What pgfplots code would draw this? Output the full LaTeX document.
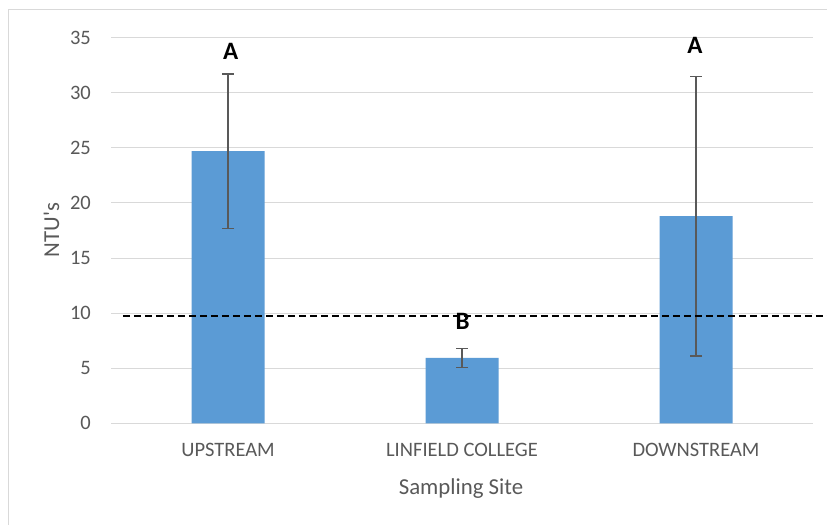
\documentclass[border=0pt]{standalone}
\usepackage{pgfplots}
\pgfplotsset{compat=1.18}
\usepackage{fontspec}
\setmainfont{Carlito}
\definecolor{barblue}{HTML}{5B9BD5}
\definecolor{gridgray}{HTML}{D9D9D9}
\definecolor{textgray}{HTML}{595959}
\begin{document}
\begin{tikzpicture}
\useasboundingbox (0,0) rectangle (827bp,525bp);
\fill[white] (0,0) rectangle (827bp,525bp);
% chart frame (right and bottom edges are cropped off)
\draw[gridgray, line width=1bp] (8bp,0) -- (8bp,515bp) -- (827bp,515bp);
\begin{axis}[
    at={(111bp,101.7bp)}, anchor=south west,
    scale only axis, width=702bp, height=385.6bp,
    ybar, bar width=73bp,
    xmin=-0.5, xmax=2.5, ymin=0, ymax=35,
    ytick={0,5,...,35},
    xtick={0,1,2},
    xticklabels={UPSTREAM, LINFIELD COLLEGE, DOWNSTREAM},
    axis line style={draw=none}, major tick length=0pt,
    ymajorgrids, grid style={gridgray, line width=1bp},
    tick label style={font=\fontsize{20.5bp}{24bp}\selectfont, text=textgray},
    /pgf/number format/assume math mode=true,
    yticklabel style={anchor=east, inner sep=0pt, xshift=-20bp},
    xticklabel style={anchor=north, inner sep=0pt, yshift=-20bp},
    xlabel={Sampling Site}, ylabel={NTU\textquotesingle s},
    label style={font=\fontsize{22.8bp}{26bp}\selectfont, text=textgray},
    xlabel style={at={(axis description cs:0.4986,-0.168)}, anchor=center},
    ylabel style={at={(axis description cs:-0.0848,0.501)}, anchor=center},
    clip=false,
]
\addplot[fill=barblue, draw=none,
    error bars/.cd, y dir=both, y explicit,
    error bar style={textgray, line width=1.2bp},
    error mark options={rotate=90, mark size=6bp, textgray, line width=1.2bp}]
  coordinates {(0,24.7) +- (0,7.0) (1,5.93) +- (0,0.89) (2,18.8) +- (0,12.7)};

\node[font=\bfseries\fontsize{25bp}{28bp}\selectfont] at (axis cs:0.012,33.76) {A};
\node[font=\bfseries\fontsize{25bp}{28bp}\selectfont] at (axis cs:1.003,9.22) {B};
\node[font=\bfseries\fontsize{25bp}{28bp}\selectfont] at (axis cs:1.996,34.26) {A};

% turbidity standard (dashed reference line), drawn over the letters
\addplot[sharp plot, black, line width=2bp, dash pattern=on 7.5bp off 3.5bp, forget plot]
  coordinates {(-0.449,9.74) (2.56,9.74)};
\end{axis}
\end{tikzpicture}
\end{document}
